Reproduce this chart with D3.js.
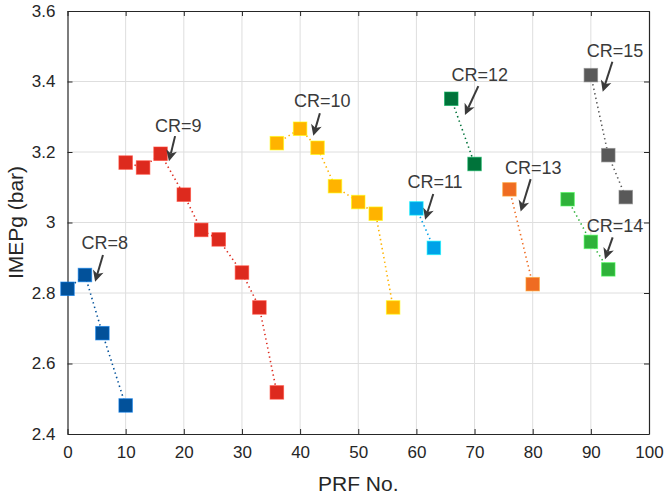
<!DOCTYPE html>
<html>
<head>
<meta charset="utf-8">
<script src="https://cdn.jsdelivr.net/npm/d3@7"></script>
<style>
  body { margin: 0; background: #fff; }
  svg { display: block; font-family: "Liberation Sans", Arial, sans-serif; }
</style>
</head>
<body>
<div id="chart"></div>
<script>
// data: one array per compression ratio
const seriesNames = ["CR=8", "CR=9", "CR=10", "CR=11", "CR=12", "CR=13", "CR=14", "CR=15"];
const seriesColors = ["#02519a", "#dd2a1e", "#ffb300", "#00a2e8", "#00733a", "#ef6c22", "#2fb23a", "#595959"];
const cr8  = [[0, 2.812], [3, 2.851], [6, 2.686], [10, 2.481]];
const cr9  = [[10, 3.170], [13, 3.156], [16, 3.195], [20, 3.079], [23, 2.979], [26, 2.952], [30, 2.858], [33, 2.759], [36, 2.518]];
const cr10 = [[36, 3.225], [40, 3.266], [43, 3.212], [46, 3.103], [50, 3.058], [53, 3.025], [56, 2.759]];
const cr11 = [[60, 3.040], [63, 2.928]];
const cr12 = [[66, 3.351], [70, 3.166]];
const cr13 = [[76, 3.094], [80, 2.825]];
const cr14 = [[86, 3.066], [90, 2.945], [93, 2.867]];
const cr15 = [[90, 3.418], [93, 3.191], [96, 3.072]];
const seriesValues = [cr8, cr9, cr10, cr11, cr12, cr13, cr14, cr15];

// annotation: label position, arrow tail, arrow tip (data units)
const labelPos  = [[6.4, 2.925], [19.05, 3.257], [43.8, 3.327], [63.2, 3.099], [70.9, 3.402], [80.1, 3.137], [94.15, 2.973], [94.15, 3.470]];
const arrowTail = [[6.1, 2.908], [18.5, 3.245], [43.4, 3.310], [62.9, 3.081], [70.65, 3.387], [79.65, 3.123], [93.75, 2.958], [93.7, 3.456]];
const arrowTip  = [[4.75, 2.832], [17.45, 3.174], [42.27, 3.246], [61.5, 3.008], [68.35, 3.305], [77.93, 3.031], [92.43, 2.896], [92.04, 3.371]];

const xTicks = [0, 10, 20, 30, 40, 50, 60, 70, 80, 90, 100];
const yTicks = [2.4, 2.6, 2.8, 3.0, 3.2, 3.4, 3.6];
const xLabel = "PRF No.";
const yLabel = "IMEPg (bar)";

const width = 666, height = 498;
const margin = {left: 67.5, right: 17, top: 11, bottom: 64};

const x = d3.scaleLinear().domain([0, 100]).range([margin.left, width - margin.right]);
const y = d3.scaleLinear().domain([2.4, 3.6]).range([height - margin.bottom, margin.top]);

const svg = d3.select("#chart").append("svg")
  .attr("width", width)
  .attr("height", height);

const axisColor = "#262626";
const x0 = x.range()[0], x1 = x.range()[1], y0 = y.range()[0], y1 = y.range()[1];

// grid
svg.append("g").selectAll("line").data(xTicks.slice(1, -1)).join("line")
  .attr("x1", d => x(d)).attr("x2", d => x(d))
  .attr("y1", y1).attr("y2", y0)
  .attr("stroke", "#dedede").attr("stroke-width", 1);
svg.append("g").selectAll("line").data(yTicks.slice(1, -1)).join("line")
  .attr("x1", x0).attr("x2", x1)
  .attr("y1", d => y(d)).attr("y2", d => y(d))
  .attr("stroke", "#dedede").attr("stroke-width", 1);

// axes, ticks pointing inward, box all round
const tickLen = 5;
const axB = svg.append("g").attr("transform", `translate(0,${y0})`)
  .call(d3.axisBottom(x).tickValues(xTicks).tickSizeInner(-tickLen).tickSizeOuter(0).tickPadding(12).tickFormat(d3.format("d")));
const axT = svg.append("g").attr("transform", `translate(0,${y1})`)
  .call(d3.axisTop(x).tickValues(xTicks).tickSizeInner(-tickLen).tickSizeOuter(0).tickFormat(""));
const axL = svg.append("g").attr("transform", `translate(${x0},0)`)
  .call(d3.axisLeft(y).tickValues(yTicks).tickSizeInner(-tickLen).tickSizeOuter(0).tickPadding(12).tickFormat(d => d3.format("~g")(d)));
const axR = svg.append("g").attr("transform", `translate(${x1},0)`)
  .call(d3.axisRight(y).tickValues(yTicks).tickSizeInner(-tickLen).tickSizeOuter(0).tickFormat(""));

[axB, axT, axL, axR].forEach(a => {
  a.select(".domain").attr("stroke", axisColor).attr("stroke-width", 1.2);
  a.selectAll(".tick line").attr("stroke", axisColor).attr("stroke-width", 1);
  a.selectAll("text").attr("fill", "#262626").style("font-size", "17px").style("font-family", "Liberation Sans, Arial, sans-serif");
});

// axis labels
svg.append("text")
  .attr("x", (x0 + x1) / 2).attr("y", 491)
  .attr("text-anchor", "middle")
  .attr("fill", "#262626").style("font-size", "21px")
  .text(xLabel);
svg.append("text")
  .attr("transform", `translate(23,${(y0 + y1) / 2}) rotate(-90)`)
  .attr("text-anchor", "middle")
  .attr("fill", "#262626").style("font-size", "21px")
  .text(yLabel);

// dotted connecting lines + square markers
const line = d3.line().x(d => x(d[0])).y(d => y(d[1]));
const sq = 13.5;
seriesValues.forEach((vals, i) => {
  const c = seriesColors[i];
  const g = svg.append("g").attr("class", "series");
  g.append("path")
    .attr("d", line(vals))
    .attr("fill", "none")
    .attr("stroke", c)
    .attr("stroke-width", 1.6)
    .attr("stroke-dasharray", "1.4,3.2");
  g.selectAll("rect").data(vals).join("rect")
    .attr("x", d => x(d[0]) - sq / 2)
    .attr("y", d => y(d[1]) - sq / 2)
    .attr("width", sq).attr("height", sq)
    .attr("fill", c)
    .attr("stroke", d3.color(c).brighter(1.2))
    .attr("stroke-opacity", 0.6)
    .attr("stroke-width", 1);
});

// CR annotations with arrows
const arrowColor = "#3a3a3a";
const ann = svg.append("g");
seriesNames.forEach((name, i) => {
  ann.append("text")
    .attr("x", x(labelPos[i][0])).attr("y", y(labelPos[i][1]))
    .attr("text-anchor", "middle")
    .attr("fill", "#3a3a3a").style("font-size", "18px")
    .text(name);

  const tx = x(arrowTail[i][0]), ty = y(arrowTail[i][1]);
  const px = x(arrowTip[i][0]), py = y(arrowTip[i][1]);
  const dx = px - tx, dy = py - ty, len = Math.hypot(dx, dy);
  const ux = dx / len, uy = dy / len, nx = -uy, ny = ux;
  const headL = 11, headW = 5.5, back = 3;
  const bx = px - ux * headL, by = py - uy * headL;
  ann.append("line")
    .attr("x1", tx).attr("y1", ty)
    .attr("x2", bx + ux * back).attr("y2", by + uy * back)
    .attr("stroke", arrowColor).attr("stroke-width", 2);
  ann.append("path")
    .attr("d", `M${px},${py} L${bx + nx * headW},${by + ny * headW} L${bx + ux * back},${by + uy * back} L${bx - nx * headW},${by - ny * headW} Z`)
    .attr("fill", arrowColor);
});
</script>
</body>
</html>
